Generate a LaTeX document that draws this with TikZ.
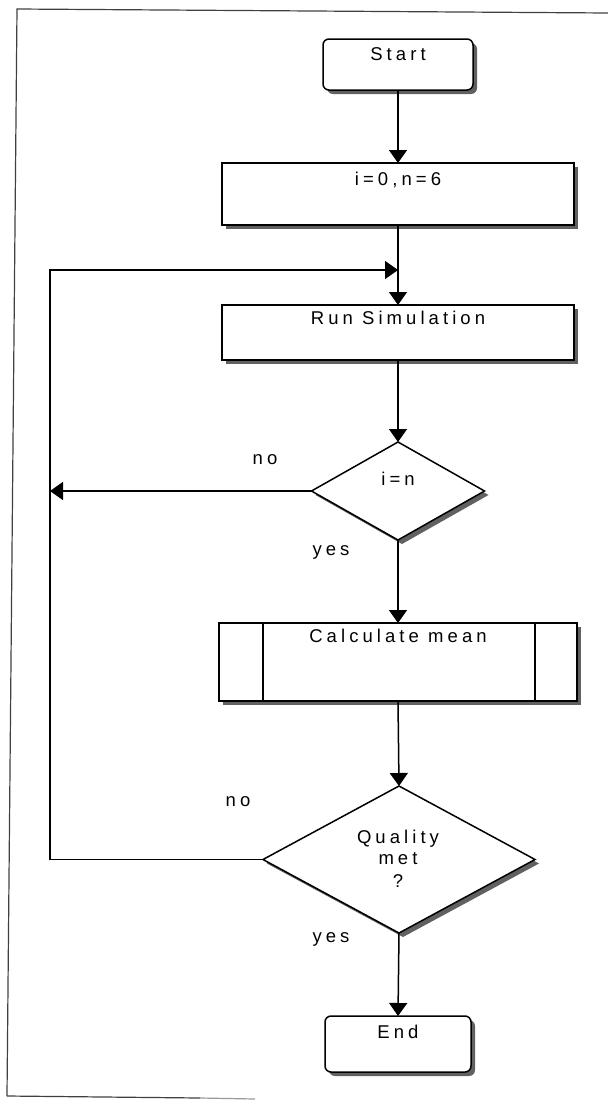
\documentclass[tikz,border=0pt]{standalone}
\usepackage{fontspec}
\setmainfont{Liberation Sans}[LetterSpace=22]
\usetikzlibrary{arrows.meta,shapes.geometric,shadows}

\begin{document}
\begin{tikzpicture}[x=1bp,y=-1bp,
  line width=1.5bp,
  every node/.style={inner sep=0pt, outer sep=0pt},
  txt/.style={font=\fontsize{18.5bp}{21bp}\selectfont, anchor=base},
  dropsh/.style={drop shadow={shadow xshift=4bp, shadow yshift=-4bp,
      opacity=1, fill=black!62}},
  procbox/.style={draw, fill=white, rectangle, dropsh},
  termbox/.style={draw, fill=white, rectangle, rounded corners=6bp, dropsh},
  decision/.style={draw, fill=white, diamond, dropsh},
  flow/.style={-{Triangle[length=13bp,width=18bp]}},
  frameline/.style={draw=black!75, line width=1.2bp},
]
\useasboundingbox (0,0) rectangle (608,1102);

% page frame
\draw[frameline] (7,1096) -- (17,9) -- (608,13);
\draw[frameline] (7,1096) -- (200,1098);
\draw[frameline, draw=black!40] (200,1098) -- (255,1099);

% boxes
\node[termbox, minimum width=150bp, minimum height=51bp] (start) at (398,64.5) {};
\node[procbox, minimum width=352bp, minimum height=62bp] (init) at (398,194) {};
\node[procbox, minimum width=352bp, minimum height=55bp] (run) at (398,332.5) {};
\node[decision, minimum width=173bp, minimum height=98bp] (dec1) at (398,491) {};
\node[procbox, minimum width=358bp, minimum height=78bp] (calc) at (398,662) {};
\draw ([xshift=44bp]calc.north west) -- ([xshift=44bp]calc.south west);
\draw ([xshift=-42bp]calc.north east) -- ([xshift=-42bp]calc.south east);
\node[decision, minimum width=272bp, minimum height=147bp] (dec2) at (399,859.5) {};
\node[termbox, minimum width=146bp, minimum height=56bp] (end) at (398,1044) {};

% texts
\node[txt] (tstart) at (398,60) {Start};
\node[txt] (tinit) at (398,185) {i=0,n=6};
\node[txt] (trun) at (398,324) {Run Simulation};
\node[txt] (tdec1) at (398,485) {i=n};
\node[txt] (tcalc) at (398,642) {Calculate mean};
\node[txt] (tq1) at (398,843) {Quality};
\node[txt] (tq2) at (398,864) {met};
\node[txt] (tq3) at (398,887) {?};
\node[txt] (tend) at (398,1038) {End};

% branch labels
\node[txt] (no1) at (265,464) {no};
\node[txt] (yes1) at (331,555) {yes};
\node[txt] (no2) at (238,806) {no};
\node[txt] (yes2) at (331,942) {yes};

% connectors
\coordinate (join) at (398,270);
\coordinate (corner) at (50,270);
\draw[flow] (start.south) -- (init.north);
\draw[flow] (init.south) -- (run.north);
\draw[flow] (run.south) -- (dec1.north);
\draw[flow] (dec1.south) -- (calc.north);
\draw[flow] (calc.south) -- (dec2.north);
\draw[flow] (dec2.south) -- (end.north);
\draw[flow] (dec1.west) -- (dec1.west -| corner);
\draw[flow] (dec2.west) -| (corner) -- (join);
\end{tikzpicture}
\end{document}
